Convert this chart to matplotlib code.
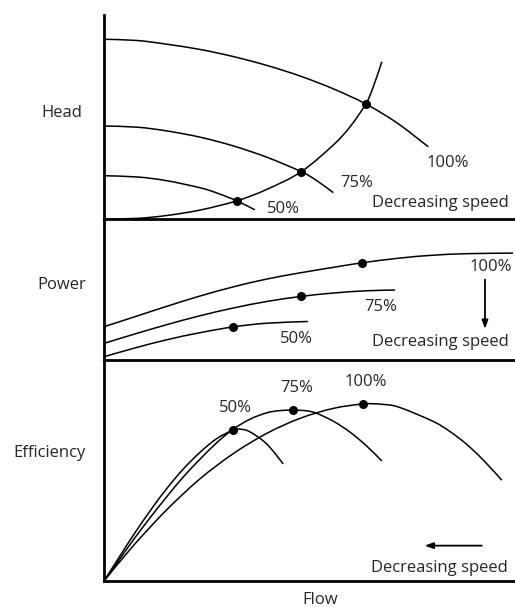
import matplotlib
matplotlib.use("Agg")
import matplotlib.pyplot as plt
from matplotlib.path import Path
from matplotlib.patches import PathPatch

# ---- Pump curves at three speeds (flow and responses in relative units 0-100) ----
speeds = ["100%", "75%", "50%"]

# Head vs flow
head_q_100 = [0, 8.1, 15.2, 23.4, 31.5, 39.6, 47.7, 55.8, 63.7, 71.3, 78.9]
head_h_100 = [88.1, 87.5, 85.7, 83.1, 79.6, 75.3, 70.1, 63.8, 56.4, 47.1, 35.4]
head_q_75 = [0, 8.1, 15.2, 23.4, 31.5, 39.6, 48.0, 51.7, 55.8]
head_h_75 = [45.6, 45.0, 43.2, 40.1, 35.8, 30.3, 23.2, 18.9, 12.9]
head_q_50 = [0, 8.1, 15.2, 23.4, 27.4, 32.3, 36.7]
head_h_50 = [21.2, 20.6, 18.8, 15.3, 12.8, 8.9, 4.5]
# System curve
system_q = [0, 8.0, 15.2, 23.4, 32.3, 39.6, 48.0, 55.8, 59.9, 63.7, 65.5, 67.6]
system_h = [0, 0.3, 1.7, 4.4, 8.9, 14.5, 23.2, 36.3, 45.3, 56.4, 64.7, 77.1]
# Operating points (100%, 75%, 50%)
op_head_q = [63.7, 48.0, 32.3]
op_head_h = [56.4, 23.2, 8.9]

# Power vs flow
pow_q_100 = [0, 7.1, 15.2, 23.4, 31.5, 39.6, 47.7, 55.8, 62.7, 72.0, 80.0, 88.2, 99.5]
pow_p_100 = [23.6, 30.3, 38.0, 45.4, 51.9, 57.4, 61.8, 65.7, 68.9, 72.3, 74.3, 75.4, 75.8]
pow_q_75 = [0, 7.1, 15.2, 23.4, 31.5, 39.6, 48.0, 55.8, 63.9, 70.8]
pow_p_75 = [11.8, 18.1, 25.0, 31.4, 36.9, 41.5, 45.1, 47.5, 49.1, 49.6]
pow_q_50 = [0, 7.1, 15.2, 23.4, 31.5, 39.6, 49.6]
pow_p_50 = [2.3, 8.2, 14.3, 19.4, 23.5, 26.1, 27.3]
op_pow_q = [62.7, 48.0, 31.5]
op_pow_p = [68.9, 45.1, 23.5]

# Efficiency vs flow
eff_q_100 = [0, 7.1, 15.3, 23.4, 31.5, 39.6, 47.7, 55.8, 63.1, 68.0, 72.0, 80.1, 84.2, 88.2, 92.3, 96.8]
eff_e_100 = [0, 15.9, 32.3, 46.3, 57.7, 66.8, 73.6, 78.1, 80.1, 79.9, 78.5, 72.2, 67.6, 61.9, 54.7, 45.6]
eff_q_75 = [0, 3.9, 7.1, 11.2, 15.3, 19.3, 23.4, 27.4, 31.3, 35.5, 39.6, 42.8, 46.1, 49.3, 51.7, 55.8, 59.9, 63.9, 67.6]
eff_e_75 = [0, 10.1, 18.5, 28.6, 38.2, 47.1, 55.2, 62.5, 68.5, 73.2, 76.1, 77.1, 77.3, 77.0, 75.9, 72.3, 67.3, 61.1, 54.3]
eff_q_50 = [0, 3.9, 7.1, 11.2, 15.3, 19.3, 23.4, 27.4, 31.3, 33.1, 35.5, 39.6, 43.6]
eff_e_50 = [0, 11.4, 20.6, 31.7, 41.9, 50.7, 58.3, 64.4, 68.2, 68.7, 67.5, 62.0, 53.0]
op_eff_q = [63.1, 46.1, 31.3]
op_eff_e = [80.1, 77.3, 68.2]

# ---- Drawing ----
W, H = 515, 607
fig = plt.figure(figsize=(W / 100, H / 100), dpi=100)
fig.patch.set_facecolor("white")

FONT = "Open Sans"
TXT = "#262626"
FS = 12
LW = 1.1
SPINE_LW = 2.0


def make_axes(top_px, bottom_px):
    left = 104 / W
    ax = fig.add_axes([left, (H - bottom_px) / H, 1 - left, (bottom_px - top_px) / H])
    ax.set_xlim(0, 100)
    ax.set_ylim(0, 100)
    for s in ("top", "right"):
        ax.spines[s].set_visible(False)
    for s in ("left", "bottom"):
        ax.spines[s].set_linewidth(SPINE_LW)
        ax.spines[s].set_color("black")
    ax.set_xticks([])
    ax.set_yticks([])
    ax.patch.set_alpha(0)
    return ax


def smooth_curve(ax, xs, ys):
    """Draw a curve through the given points as a chain of cubic Bezier segments."""
    pts = list(zip(xs, ys))
    n = len(pts)
    verts = [pts[0]]
    codes = [Path.MOVETO]
    for i in range(n - 1):
        p0 = pts[i - 1] if i > 0 else pts[i]
        p1 = pts[i]
        p2 = pts[i + 1]
        p3 = pts[i + 2] if i + 2 < n else pts[i + 1]
        c1 = (p1[0] + (p2[0] - p0[0]) / 6, p1[1] + (p2[1] - p0[1]) / 6)
        c2 = (p2[0] - (p3[0] - p1[0]) / 6, p2[1] - (p3[1] - p1[1]) / 6)
        verts += [c1, c2, p2]
        codes += [Path.CURVE4] * 3
    patch = PathPatch(Path(verts, codes), fill=False, edgecolor="black", lw=LW,
                      transform=ax.transData, clip_on=False, capstyle="butt")
    ax.add_patch(patch)


def txt(ax, x, y, s, ha="center", va="center"):
    ax.text(x, y, s, ha=ha, va=va, fontsize=FS, family=FONT, color=TXT, clip_on=False)


dot_kw = dict(color="black", marker="o", ms=5.5, ls="none", clip_on=False, zorder=5)
arrow_kw = dict(arrowstyle="-|>,head_length=0.5,head_width=0.18",
                color="black", lw=1.3, shrinkA=0, shrinkB=0)

# Head panel
ax1 = make_axes(15, 219)
smooth_curve(ax1, head_q_100, head_h_100)
smooth_curve(ax1, head_q_75, head_h_75)
smooth_curve(ax1, head_q_50, head_h_50)
smooth_curve(ax1, system_q, system_h)
ax1.plot(op_head_q, op_head_h, **dot_kw)
txt(ax1, 83.6, 27.5, speeds[0])
txt(ax1, 61.6, 17.6, speeds[1])
txt(ax1, 43.6, 4.9, speeds[2])
txt(ax1, 98.5, 7.8, "Decreasing speed", ha="right")

# Power panel
ax2 = make_axes(219, 360)
smooth_curve(ax2, pow_q_100, pow_p_100)
smooth_curve(ax2, pow_q_75, pow_p_75)
smooth_curve(ax2, pow_q_50, pow_p_50)
ax2.plot(op_pow_q, op_pow_p, **dot_kw)
txt(ax2, 94.2, 66.0, speeds[0])
txt(ax2, 67.2, 37.8, speeds[1])
txt(ax2, 46.8, 14.9, speeds[2])
txt(ax2, 98.5, 13.0, "Decreasing speed", ha="right")
ax2.annotate("", xy=(92.7, 22.0), xytext=(92.7, 57.0), arrowprops=arrow_kw,
             annotation_clip=False)

# Efficiency panel
ax3 = make_axes(360, 581)
smooth_curve(ax3, eff_q_100, eff_e_100)
smooth_curve(ax3, eff_q_75, eff_e_75)
smooth_curve(ax3, eff_q_50, eff_e_50)
ax3.plot(op_eff_q, op_eff_e, **dot_kw)
txt(ax3, 63.6, 90.0, speeds[0])
txt(ax3, 46.8, 87.3, speeds[1])
txt(ax3, 31.9, 78.3, speeds[2])
txt(ax3, 98.3, 5.9, "Decreasing speed", ha="right")
ax3.annotate("", xy=(78.0, 16.0), xytext=(91.9, 16.0), arrowprops=arrow_kw,
             annotation_clip=False)

# Axis titles
for label, xp, yp in [("Head", 61.5, 113), ("Power", 62, 285),
                      ("Efficiency", 50, 453), ("Flow", 320, 600)]:
    fig.text(xp / W, 1 - yp / H, label, ha="center", va="center",
             fontsize=FS, family=FONT, color=TXT)

fig.savefig("out.png", dpi=100, facecolor="white")
